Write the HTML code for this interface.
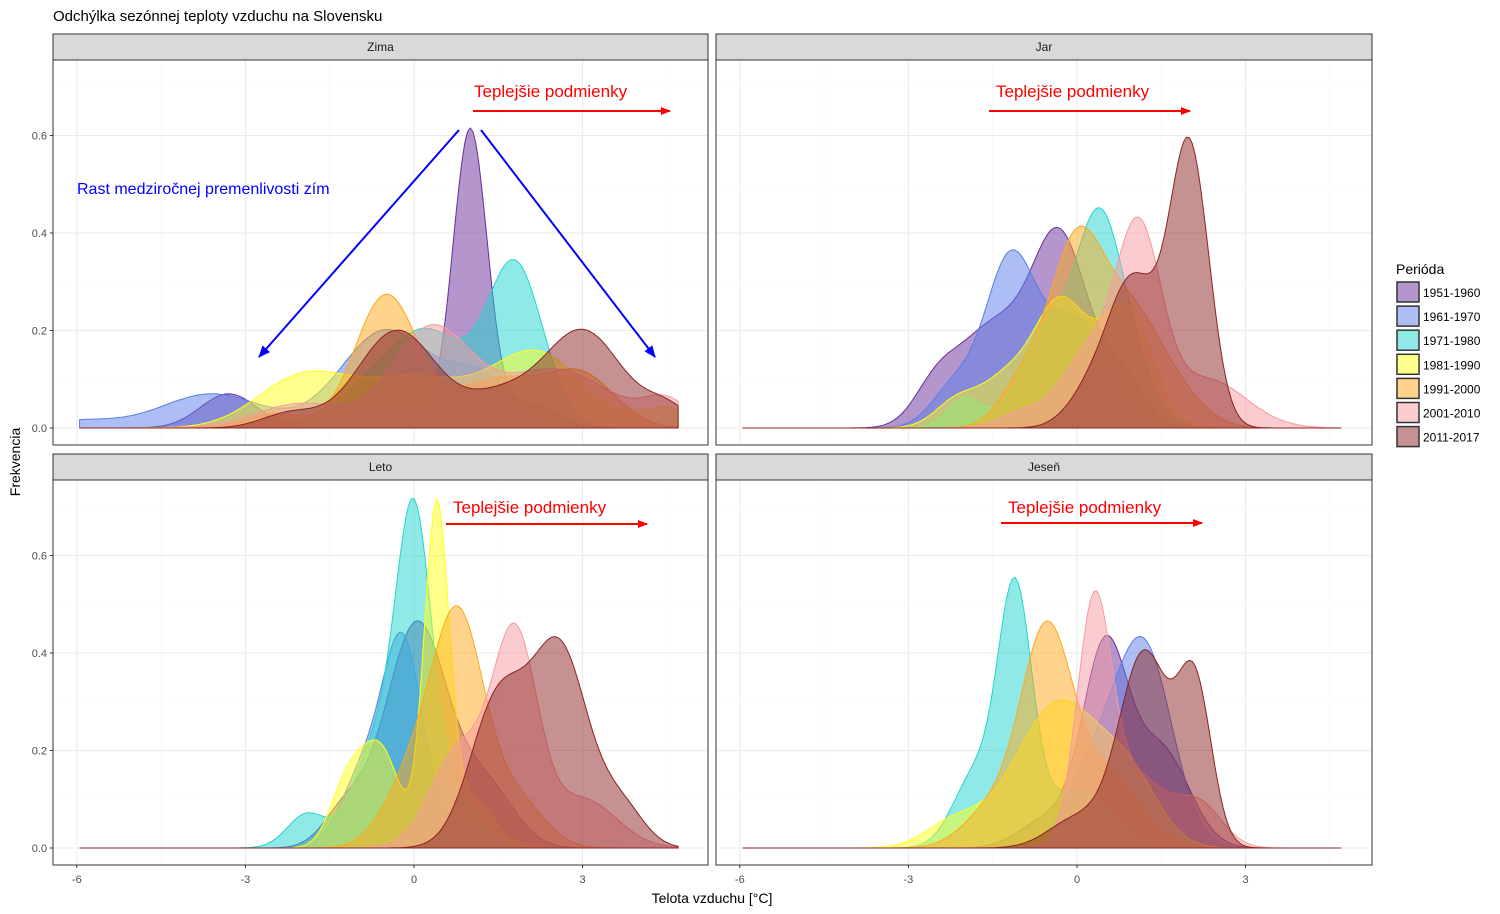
<!DOCTYPE html>
<html><head><meta charset="utf-8"><style>
body{margin:0;background:#fff;}
svg{display:block;font-family:"Liberation Sans",sans-serif;}
</style></head><body>
<svg id="s" width="1500" height="914" xmlns="http://www.w3.org/2000/svg"></svg>
<script>
const S=document.getElementById('s');
let h='';
h+='<rect width="1500" height="914" fill="#fff"/>';
h+='<text x="53" y="21" font-size="15" fill="#000">Odchýlka sezónnej teploty vzduchu na Slovensku</text>';
const cols=[['#6a2c9a','1951-1960'],['#5a7de8','1961-1970'],['#20d6d0','1971-1980'],['#ffff1a','1981-1990'],['#ffa81a','1991-2000'],['#f59aa0','2001-2010'],['#8b2323','2011-2017']];
const panels=[
 {name:'Zima',x0:53,x1:708,sy:34,py0:60,py1:445,z0:414,b0:428,
  d:[[[1.0,0.6,0.3],[-3.3,0.07,0.5],[-0.5,0.05,0.8],[2,0.05,0.5]],
     [[-3.6,0.07,0.9],[-0.5,0.2,0.8],[1.2,0.1,0.6],[-6,0.015,0.7]],
     [[1.8,0.33,0.5],[0.2,0.2,0.7],[-1,0.05,0.5]],
     [[-2,0.1,0.8],[0,0.1,1],[2.2,0.15,0.8],[4.5,0.04,0.5]],
     [[-0.5,0.27,0.55],[1.5,0.1,0.8],[3,0.1,0.6],[-2.5,0.03,0.5]],
     [[0.3,0.2,0.7],[2.5,0.12,1],[-2,0.05,0.8],[4.5,0.05,0.4]],
     [[-0.3,0.2,0.7],[3,0.2,0.7],[1.5,0.06,0.6],[-2.2,0.03,0.5],[4.5,0.04,0.4]]]},
 {name:'Jar',x0:716,x1:1372,sy:34,py0:60,py1:445,z0:1077,b0:428,
  d:[[[-0.3,0.38,0.5],[-1.5,0.2,0.6],[-2.5,0.08,0.4],[0.8,0.1,0.4]],
     [[-1.2,0.33,0.45],[0,0.22,0.6],[-2.2,0.08,0.4]],
     [[0.4,0.38,0.4],[-0.5,0.2,0.5],[-2,0.06,0.3],[1,0.1,0.4]],
     [[-0.3,0.26,0.5],[0.9,0.24,0.45],[-2.1,0.06,0.4],[-1.3,0.08,0.4]],
     [[0,0.38,0.5],[1,0.2,0.5],[1.8,0.06,0.5],[-1,0.08,0.4]],
     [[1.1,0.38,0.4],[0.2,0.15,0.5],[2.3,0.1,0.7],[-1,0.03,0.4]],
     [[2,0.57,0.35],[1.0,0.3,0.45],[0.2,0.06,0.4]]]},
 {name:'Leto',x0:53,x1:708,sy:454,py0:480,py1:865,z0:414,b0:848,
  d:[[[0.05,0.46,0.55],[1.3,0.12,0.5],[-1.2,0.08,0.4]],
     [[-0.2,0.4,0.35],[-0.9,0.15,0.4],[0.8,0.06,0.5]],
     [[0,0.66,0.32],[-0.7,0.2,0.4],[-1.9,0.07,0.35],[0.8,0.1,0.4]],
     [[0.4,0.68,0.22],[-0.6,0.2,0.35],[-1.2,0.12,0.3],[1,0.1,0.4]],
     [[0.8,0.44,0.45],[0,0.15,0.5],[1.8,0.1,0.5]],
     [[1.8,0.42,0.4],[0.8,0.2,0.5],[3,0.1,0.6]],
     [[2.6,0.4,0.5],[1.5,0.3,0.5],[3.7,0.08,0.4]]]},
 {name:'Jeseň',x0:716,x1:1372,sy:454,py0:480,py1:865,z0:1077,b0:848,
  d:[[[0.5,0.4,0.4],[1.5,0.2,0.5],[-0.5,0.06,0.5]],
     [[1.2,0.4,0.5],[0.3,0.15,0.5]],
     [[-1.1,0.5,0.3],[-1.8,0.15,0.4],[0,0.12,0.6]],
     [[-0.3,0.3,0.8],[-2.2,0.05,0.5],[1,0.1,0.5]],
     [[-0.55,0.42,0.45],[0.5,0.15,0.6],[-1.5,0.08,0.5]],
     [[0.3,0.45,0.3],[1,0.15,0.6],[2.2,0.08,0.4]],
     [[1.2,0.4,0.45],[2.1,0.32,0.3],[0,0.06,0.5]]]}
];
const ux=56.2, uy=487.5;
panels.forEach(p=>{
 h+=`<rect x="${p.x0}" y="${p.sy}" width="${p.x1-p.x0}" height="${p.py0-p.sy}" fill="#d9d9d9" stroke="#333" stroke-width="1"/>`;
 h+=`<text x="${(p.x0+p.x1)/2}" y="${p.sy+17}" font-size="12" text-anchor="middle" fill="#1a1a1a">${p.name}</text>`;
 h+=`<rect x="${p.x0}" y="${p.py0}" width="${p.x1-p.x0}" height="${p.py1-p.py0}" fill="#fff"/>`;
 for(let v=-6;v<=4.6;v+=1.5){const x=p.z0+v*ux;const maj=(Math.round(v*2)%6===0);
  h+=`<line x1="${x}" x2="${x}" y1="${p.py0}" y2="${p.py1}" stroke="${maj?'#ebebeb':'#f5f5f5'}" stroke-width="${maj?1.1:0.6}"/>`;}
 for(let k=0;k<=7;k++){const y=p.b0-k*0.1*uy;if(y<p.py0)continue;const maj=k%2===0;
  h+=`<line x1="${p.x0}" x2="${p.x1}" y1="${y}" y2="${y}" stroke="${maj?'#ebebeb':'#f5f5f5'}" stroke-width="${maj?1.1:0.6}"/>`;}
 p.d.forEach((mix,i)=>{
  let pts=[];
  for(let v=-5.95;v<=4.7001;v+=0.05){let y=0;mix.forEach(g=>{y+=g[1]*Math.exp(-((v-g[0])**2)/(2*g[2]*g[2]));});
   pts.push([(p.z0+v*ux).toFixed(1),(p.b0-y*uy).toFixed(1)]);}
  const xs=p.z0-5.95*ux, xe=p.z0+4.7*ux;
  let d=`M${xs},${p.b0} `+pts.map(q=>'L'+q[0]+','+q[1]).join(' ')+` L${xe},${p.b0} Z`;
  h+=`<path d="${d}" fill="${cols[i][0]}" fill-opacity="0.5" stroke="${cols[i][0]}" stroke-width="1"/>`;
 });
 h+=`<rect x="${p.x0}" y="${p.py0}" width="${p.x1-p.x0}" height="${p.py1-p.py0}" fill="none" stroke="#333" stroke-width="1"/>`;
 if(p.x0<100){[0,0.2,0.4,0.6].forEach(v=>{const y=p.b0-v*uy;
  h+=`<line x1="${p.x0-3}" x2="${p.x0}" y1="${y}" y2="${y}" stroke="#333"/>`;
  h+=`<text x="${p.x0-6}" y="${y+4}" font-size="11" text-anchor="end" fill="#4d4d4d">${v.toFixed(1)}</text>`;});}
 if(p.py1>800){[-6,-3,0,3].forEach(v=>{const x=p.z0+v*ux;
  h+=`<line x1="${x}" x2="${x}" y1="${p.py1}" y2="${p.py1+3}" stroke="#333"/>`;
  h+=`<text x="${x}" y="${p.py1+18}" font-size="11" text-anchor="middle" fill="#4d4d4d">${v}</text>`;});}
});
h+='<text x="712" y="903" font-size="14" text-anchor="middle" fill="#000">Telota vzduchu [°C]</text>';
h+='<text x="20" y="462" font-size="14" text-anchor="middle" fill="#000" transform="rotate(-90 20 462)">Frekvencia</text>';
h+='<text x="1396" y="274" font-size="14" fill="#000">Perióda</text>';
cols.forEach((c,i)=>{const y=282+i*24.1;
 h+=`<rect x="1397" y="${y}" width="22" height="20" fill="#fff"/><rect x="1397" y="${y}" width="22" height="20" fill="${c[0]}" fill-opacity="0.5" stroke="#333" stroke-width="1.5"/>`;
 h+=`<text x="1423" y="${y+15}" font-size="12" fill="#000">${c[1]}</text>`;});
h+='<defs><marker id="ar" markerWidth="10" markerHeight="8" refX="9" refY="4" orient="auto" markerUnits="userSpaceOnUse"><path d="M0,0 L10,4 L0,8 Z" fill="red"/></marker><marker id="ab" markerWidth="12" markerHeight="10" refX="11" refY="5" orient="auto" markerUnits="userSpaceOnUse"><path d="M0,0 L12,5 L0,10 Z" fill="blue"/></marker></defs>';
[[474,91,473,670,111],[996,91,989,1190,111],[453,507,446,647,524],[1008,507,1001,1202,523]].forEach(a=>{
 h+=`<text x="${a[0]}" y="${a[1]+6}" font-size="17" fill="red">Teplejšie podmienky</text>`;
 h+=`<line x1="${a[2]}" y1="${a[4]}" x2="${a[3]}" y2="${a[4]}" stroke="red" stroke-width="2" marker-end="url(#ar)"/>`;});
h+='<text x="77" y="194" font-size="16" fill="blue">Rast medziročnej premenlivosti zím</text>';
h+='<line x1="459" y1="130" x2="259" y2="357" stroke="blue" stroke-width="2" marker-end="url(#ab)"/>';
h+='<line x1="481" y1="130" x2="655" y2="357" stroke="blue" stroke-width="2" marker-end="url(#ab)"/>';
S.innerHTML=h;
</script>
</body></html>
